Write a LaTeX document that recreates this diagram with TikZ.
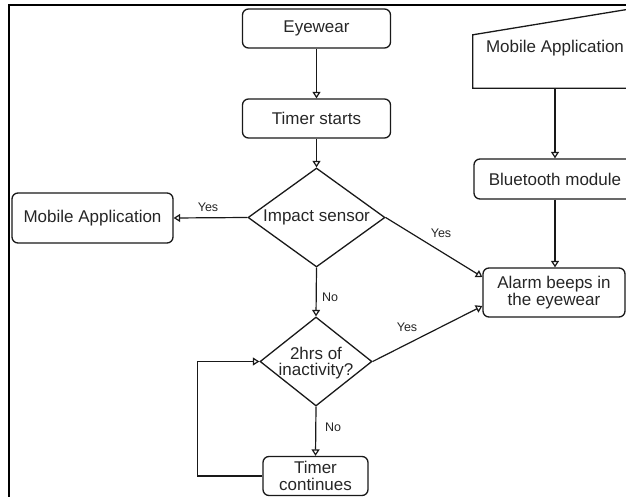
\documentclass[tikz,border=0pt]{standalone}
\usepackage{fontspec}
\setmainfont{Liberation Sans}
\usetikzlibrary{shapes.geometric,arrows.meta,calc}
\begin{document}
\begin{tikzpicture}[x=1pt,y=-1pt,
  box/.style={draw=black!90, line width=1.3pt, rounded corners=6pt, inner sep=0pt, align=center, font=\fontsize{17}{16.5}\selectfont, text=black!85},
  dia/.style={draw=black!90, line width=1.3pt, diamond, inner sep=0pt},
  dtext/.style={align=center, font=\fontsize{17}{16.5}\selectfont, text=black!85},
  arr/.style={draw=black!90, line width=1.2pt, -{Triangle[open,length=6.5pt,width=8pt]}},
  lbl/.style={font=\fontsize{12.5}{14}\selectfont, text=black!85},
]
\useasboundingbox (0,0) rectangle (626,497);
\clip (0,0) rectangle (626,497);
\draw[line width=2.5pt] (9,600) -- (9,5) -- (700,5);

\node[box, minimum width=148pt, minimum height=39pt] (eye) at (316.5,28.5) {Eyewear};
\node[box, minimum width=148pt, minimum height=39pt] (ts) at (316.5,118.5) {Timer starts};
\node[dia, minimum width=137pt, minimum height=99pt] (imp) at (316.5,217.5) {};
\node[dtext] (impt) at (316.5,217) {Impact sensor};
\node[box, minimum width=161pt, minimum height=50pt] (ma) at (92.5,218) {Mobile Application};
\node[dia, minimum width=112pt, minimum height=89pt] (hrs) at (316,361.5) {};
\node[dtext] (hrst) at (316,363) {2hrs of\\inactivity?};
\node[box, minimum width=105pt, minimum height=39pt] (tc) at (315.5,476) {Timer\\continues};
\node[box, minimum width=142pt, minimum height=49pt] (al) at (554,292.5) {Alarm beeps in\\the eyewear};
\node[box, minimum width=162pt, minimum height=40pt] (bt) at (555,179) {Bluetooth module};
\node[dtext, minimum width=164pt, minimum height=80pt, inner sep=0pt] (mob) at (555,48) {Mobile Application};
\draw[line width=1.3pt, draw=black!90] (mob.south west) -- ($(mob.north west)+(0,27)$) -- (mob.north east) -- (mob.south east) -- cycle;

\draw[arr] (eye) -- (ts);
\draw[arr] (ts) -- (imp);
\draw[arr] (imp.west) -- (ma.east);
\draw[arr] (imp.east) -- ($(al.west)+(0,-15.5)$);
\draw[arr] (hrs.east) -- ($(al.west)+(0,13.5)$);
\draw[arr] (mob.south) -- (bt.north);
\draw[arr] (bt.south) -- (bt.south |- al.north);
\draw[arr] (imp.south) -- (hrs.north);
\draw[arr] (hrs.south) -- (tc.north);
\draw[arr] (tc.west) -- ++(-65,0) |- (hrs.west);

\node[lbl] (y1) at (208,207) {Yes};
\node[lbl] (y2) at (441,233) {Yes};
\node[lbl] (n1) at (330,297) {No};
\node[lbl] (y3) at (407,327) {Yes};
\node[lbl] (n2) at (333,427) {No};
\end{tikzpicture}
\end{document}
